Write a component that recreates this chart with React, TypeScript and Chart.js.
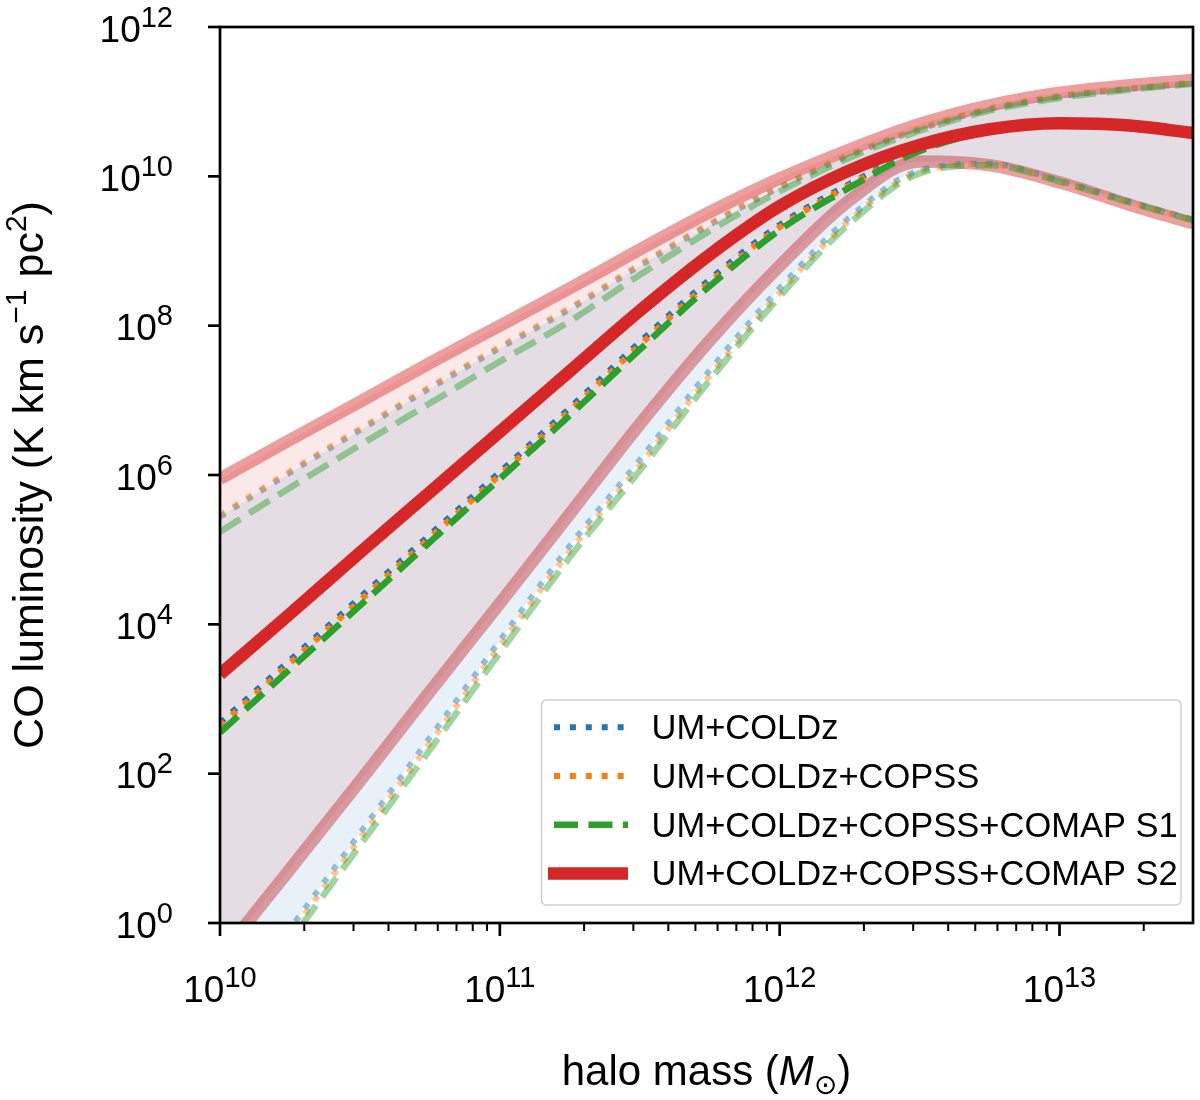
import React, { useEffect, useRef } from "react";
import { Chart, registerables } from "chart.js";

Chart.register(...registerables);

// log10 of halo mass (M_sun)
const logMass = [10, 10.25, 10.5, 10.75, 11, 11.25, 11.5, 11.75, 12, 12.25, 12.5, 12.75, 13, 13.25, 13.477];

// log10 of CO luminosity: median, upper and lower edge of each fit
const coldzMid = [2.68, 3.52, 4.36, 5.2, 6.04, 6.9, 7.78, 8.62, 9.35, 9.9, 10.36, 10.6, 10.69, 10.66, 10.56];
const coldzHi = [5.44, 6.03, 6.6, 7.16, 7.7, 8.22, 8.8, 9.35, 9.85, 10.28, 10.63, 10.9, 11.07, 11.17, 11.25];
const coldzLo = [-1.35, -0.08, 1.2, 2.48, 3.78, 5.05, 6.2, 7.4, 8.5, 9.45, 10.08, 10.17, 9.94, 9.66, 9.42];

const copssMid = [2.64, 3.48, 4.32, 5.16, 6.0, 6.86, 7.74, 8.58, 9.32, 9.88, 10.35, 10.6, 10.69, 10.66, 10.56];
const copssHi = [5.46, 6.05, 6.62, 7.18, 7.72, 8.24, 8.82, 9.37, 9.86, 10.29, 10.64, 10.91, 11.08, 11.18, 11.26];
const copssLo = [-1.42, -0.15, 1.13, 2.41, 3.71, 4.98, 6.13, 7.33, 8.44, 9.41, 10.06, 10.16, 9.93, 9.65, 9.41];

const s1Mid = [2.55, 3.4, 4.25, 5.1, 5.95, 6.8, 7.68, 8.53, 9.28, 9.85, 10.34, 10.6, 10.69, 10.66, 10.56];
const s1Hi = [5.24, 5.83, 6.4, 6.96, 7.52, 8.06, 8.68, 9.27, 9.8, 10.25, 10.61, 10.88, 11.05, 11.16, 11.24];
const s1Lo = [-1.51, -0.24, 1.04, 2.32, 3.62, 4.9, 6.06, 7.27, 8.39, 9.37, 10.04, 10.15, 9.93, 9.65, 9.41];

const s2Mid = [3.33, 4.14, 4.96, 5.77, 6.58, 7.39, 8.2, 8.95, 9.6, 10.08, 10.42, 10.63, 10.71, 10.68, 10.58];
const s2Hi = [5.95, 6.47, 6.98, 7.5, 8.0, 8.5, 9.02, 9.52, 9.97, 10.36, 10.7, 10.95, 11.12, 11.22, 11.29];
const s2Lo = [-0.45, 0.72, 1.9, 3.1, 4.28, 5.48, 6.68, 7.8, 8.8, 9.68, 10.2, 10.15, 9.92, 9.62, 9.37];

// axis ticks (exponents)
const massTicks = [10, 11, 12, 13];
const lumTicks = [0, 2, 4, 6, 8, 10, 12];

const FONT = '"Liberation Sans", Arial, Helvetica, sans-serif';

const series = [
  { label: "UM+COLDz", rgb: "31,119,180", style: "dot", width: 6, mid: coldzMid, hi: coldzHi, lo: coldzLo, shade: true },
  { label: "UM+COLDz+COPSS", rgb: "255,127,14", style: "dot", width: 6, mid: copssMid, hi: copssHi, lo: copssLo, shade: false },
  { label: "UM+COLDz+COPSS+COMAP S1", rgb: "44,160,44", style: "dash", width: 6.5, mid: s1Mid, hi: s1Hi, lo: s1Lo, shade: false },
  { label: "UM+COLDz+COPSS+COMAP S2", rgb: "214,39,40", style: "solid", width: 12.5, mid: s2Mid, hi: s2Hi, lo: s2Lo, shade: true },
];

const dashFor = (style: string, w: number) =>
  style === "dot" ? [w, 1.65 * w] : style === "dash" ? [3.7 * w, 1.6 * w] : [];

const lineSet = (s: any, ys: number[], alpha: number) => ({
  label: s.label,
  data: logMass.map((x, i) => ({ x, y: ys[i] })),
  borderColor: `rgba(${s.rgb},${alpha})`,
  borderWidth: s.width,
  borderDash: dashFor(s.style, s.width),
  pointRadius: 0,
  cubicInterpolationMode: "monotone",
  fill: false,
  clip: 0,
});

function buildDatasets() {
  const layers: any[] = [];
  const addBand = (s: any) => {
    const hiIdx = layers.length;
    layers.push({
      ...lineSet(s, s.hi, 0.45),
      fill: s.shade ? { target: hiIdx + 1 } : false,
      backgroundColor: `rgba(${s.rgb},0.1)`,
    });
    layers.push(lineSet(s, s.lo, 0.45));
  };
  addBand(series[3]);
  series.slice(0, 3).forEach(addBand);
  series.slice(0, 3).forEach((s) => layers.push(lineSet(s, s.mid, 1)));
  layers.push(lineSet(series[3], series[3].mid, 1));
  // first pushed is drawn first (bottom)
  layers.forEach((d, i) => (d.order = layers.length - i));
  return layers;
}

function drawPower(ctx: CanvasRenderingContext2D, exp: string, x: number, y: number, align: string) {
  ctx.font = `37px ${FONT}`;
  const wb = ctx.measureText("10").width;
  ctx.font = `29px ${FONT}`;
  const we = ctx.measureText(exp).width;
  const x0 = align === "center" ? x - (wb + we) / 2 : x - (wb + we);
  ctx.textAlign = "left";
  ctx.textBaseline = "alphabetic";
  ctx.font = `37px ${FONT}`;
  ctx.fillText("10", x0, y);
  ctx.font = `29px ${FONT}`;
  ctx.fillText(exp, x0 + wb, y - 15);
}

function drawParts(ctx: CanvasRenderingContext2D, parts: any[], cx: number, base: number) {
  let total = 0;
  parts.forEach((p) => {
    ctx.font = p.font;
    p.w = ctx.measureText(p.t).width;
    total += p.w;
  });
  let x = cx - total / 2;
  ctx.textAlign = "left";
  ctx.textBaseline = "alphabetic";
  parts.forEach((p) => {
    ctx.font = p.font;
    ctx.fillText(p.t, x, base + p.dy);
    x += p.w;
  });
}

const decorPlugin = {
  id: "decor",
  afterDraw(chart: any) {
    const { ctx, chartArea: a, scales } = chart;
    const xs = scales.x;
    const ys = scales.y;
    ctx.save();
    ctx.fillStyle = "#000";
    ctx.strokeStyle = "#000";
    ctx.setLineDash([]);

    // frame
    ctx.lineWidth = 2.7;
    ctx.strokeRect(a.left, a.top, a.right - a.left, a.bottom - a.top);

    // y ticks and labels
    lumTicks.forEach((v) => {
      const py = ys.getPixelForValue(v);
      ctx.lineWidth = 2.7;
      ctx.beginPath();
      ctx.moveTo(a.left - 12, py);
      ctx.lineTo(a.left, py);
      ctx.stroke();
      drawPower(ctx, String(v), 173, py + 14.5, "right");
    });

    // x major and minor ticks
    massTicks.forEach((d) => {
      const px = xs.getPixelForValue(d);
      ctx.lineWidth = 2.7;
      ctx.beginPath();
      ctx.moveTo(px, a.bottom);
      ctx.lineTo(px, a.bottom + 13);
      ctx.stroke();
      drawPower(ctx, String(d), px, 1002, "center");
      for (let k = 2; k <= 9; k++) {
        const v = d + Math.log10(k);
        if (v > xs.max + 1e-6) break;
        const mx = xs.getPixelForValue(v);
        ctx.lineWidth = 2;
        ctx.beginPath();
        ctx.moveTo(mx, a.bottom);
        ctx.lineTo(mx, a.bottom + 8);
        ctx.stroke();
      }
    });

    // x title
    drawParts(
      ctx,
      [
        { t: "halo mass (", font: `42px ${FONT}`, dy: 0 },
        { t: "M", font: `italic 42px ${FONT}`, dy: 0 },
        { t: "\u2299", font: `28px "DejaVu Sans", ${FONT}`, dy: 9 },
        { t: ")", font: `42px ${FONT}`, dy: 0 },
      ],
      (a.left + a.right) / 2,
      1085
    );

    // y title
    ctx.save();
    ctx.translate(43, (a.top + a.bottom) / 2);
    ctx.rotate(-Math.PI / 2);
    drawParts(
      ctx,
      [
        { t: "CO luminosity (K km s", font: `43px ${FONT}`, dy: 0 },
        { t: "\u22121", font: `30px ${FONT}`, dy: -17 },
        { t: " pc", font: `43px ${FONT}`, dy: 0 },
        { t: "2", font: `30px ${FONT}`, dy: -17 },
        { t: ")", font: `43px ${FONT}`, dy: 0 },
      ],
      0,
      0
    );
    ctx.restore();

    // legend
    const bx = 541.5, by = 700, bw = 639.5, bh = 205, r = 5;
    ctx.beginPath();
    ctx.moveTo(bx + r, by);
    ctx.arcTo(bx + bw, by, bx + bw, by + bh, r);
    ctx.arcTo(bx + bw, by + bh, bx, by + bh, r);
    ctx.arcTo(bx, by + bh, bx, by, r);
    ctx.arcTo(bx, by, bx + bw, by, r);
    ctx.closePath();
    ctx.fillStyle = "rgba(255,255,255,0.8)";
    ctx.fill();
    ctx.strokeStyle = "#d0d0d0";
    ctx.lineWidth = 1.5;
    ctx.stroke();

    series.forEach((s, i) => {
      const ry = 727.3 + i * 48.7;
      ctx.strokeStyle = `rgb(${s.rgb})`;
      ctx.lineWidth = s.width;
      ctx.setLineDash(dashFor(s.style, s.width));
      ctx.beginPath();
      ctx.moveTo(s.style === "solid" ? 548 : 554, ry);
      ctx.lineTo(628, ry);
      ctx.stroke();
      ctx.setLineDash([]);
      ctx.fillStyle = "#000";
      ctx.font = `34.5px ${FONT}`;
      ctx.textAlign = "left";
      ctx.textBaseline = "alphabetic";
      ctx.fillText(s.label, 651.5, ry + 12);
    });

    ctx.restore();
  },
};

export default function App() {
  const canvasRef = useRef<HTMLCanvasElement>(null);

  useEffect(() => {
    if (!canvasRef.current) return;
    const chart = new Chart(canvasRef.current, {
      type: "line",
      data: { datasets: buildDatasets() },
      options: {
        animation: false,
        responsive: false,
        events: [],
        layout: { padding: { left: 220, top: 27, right: 7, bottom: 177 } },
        elements: { line: { capBezierPoints: false } },
        scales: {
          x: { type: "linear", min: 10, max: 13.477, display: false },
          y: { type: "linear", min: 0, max: 12, display: false },
        },
        plugins: {
          legend: { display: false },
          tooltip: { enabled: false },
        },
      } as any,
      plugins: [decorPlugin],
    });
    return () => chart.destroy();
  }, []);

  return (
    <div style={{ position: "absolute", left: 0, top: 0, width: 1200, height: 1100, background: "#fff" }}>
      <canvas ref={canvasRef} width={1200} height={1100} style={{ display: "block" }} />
    </div>
  );
}
